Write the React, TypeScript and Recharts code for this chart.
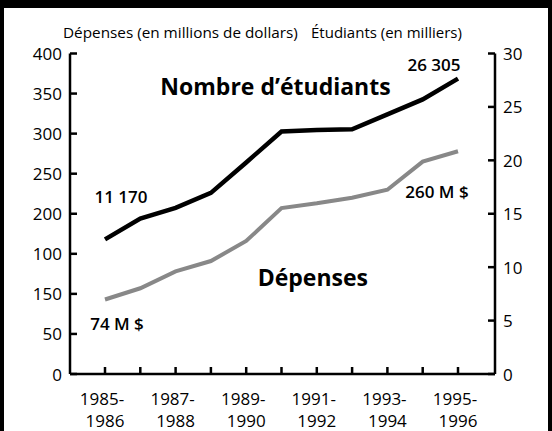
import React from "react";
import { LineChart, Line, XAxis, YAxis, LabelList } from "recharts";

// Périodes scolaires (une valeur par année)
const periods = [
  "1985-1986",
  "1986-1987",
  "1987-1988",
  "1988-1989",
  "1989-1990",
  "1990-1991",
  "1991-1992",
  "1992-1993",
  "1993-1994",
  "1994-1995",
  "1995-1996",
];

// Dépenses, en millions de dollars (axe de gauche)
const depenses = [93, 107, 128, 141, 166, 207, 213, 220, 230, 265, 278];

// Étudiants, en milliers (axe de droite)
const etudiants = [12.6, 14.55, 15.55, 16.95, 19.8, 22.7, 22.85, 22.9, 24.3, 25.7, 27.65];

const leftTicks = [0, 50, 100, 150, 200, 250, 300, 350, 400];
// libellés tels qu'imprimés dans l'original
const leftTickLabels = ["0", "50", "150", "100", "200", "250", "300", "350", "400"];
const rightTicks = [0, 5, 10, 15, 20, 25, 30];

const data = periods.map((p, i) => ({
  period: p,
  depenses: depenses[i],
  etudiants: etudiants[i],
}));

const FONT = "'Open Sans', sans-serif";

// annotations posées par rapport à un point de la série
const studentNotes = [
  { index: 0, text: "11 170", dx: 16, dy: -43, size: 17 },
  { index: 10, text: "26 305", dx: -24, dy: -14, size: 17 },
  { index: 5, text: "Nombre d\u2019étudiants", dx: -6, dy: -45, size: 23 },
];
const depenseNotes = [
  { index: 0, text: "74 M $", dx: 12, dy: 24, size: 17 },
  { index: 10, text: "260 M $", dx: -21, dy: 40, size: 17 },
  { index: 6, text: "Dépenses", dx: -4, dy: 74, size: 23 },
];

const makeNote = (notes: any[]) => (props: any) => {
  const { x, y, index } = props;
  const n = notes.find((m) => m.index === index);
  if (!n) return null;
  return (
    <text
      x={x + n.dx}
      y={y + n.dy}
      textAnchor="middle"
      dominantBaseline="central"
      fontFamily={FONT}
      fontWeight={n.size > 20 ? 700 : 600}
      fontSize={n.size}
      fill="#000"
    >
      {n.text}
    </text>
  );
};

const LeftTick = (props: any) => {
  const { x, y, index } = props;
  return (
    <g>
      <line x1={x} x2={x + 7} y1={y} y2={y} stroke="#000" strokeWidth={2.5} />
      <text x={x - 8} y={y} textAnchor="end" dominantBaseline="central" fontFamily={FONT} fontSize={17} fill="#000">
        {leftTickLabels[index]}
      </text>
    </g>
  );
};

const RightTick = (props: any) => {
  const { x, y, payload } = props;
  return (
    <g>
      <line x1={x - 7} x2={x} y1={y} y2={y} stroke="#000" strokeWidth={2.5} />
      <text x={x + 8} y={y} textAnchor="start" dominantBaseline="central" fontFamily={FONT} fontSize={17} fill="#000">
        {payload.value}
      </text>
    </g>
  );
};

const BottomTick = (props: any) => {
  const { x, y, index, payload } = props;
  const [a, b] = String(payload.value).split("-");
  return (
    <g>
      <line x1={x} x2={x} y1={y} y2={y - 7} stroke="#000" strokeWidth={2.5} />
      {index % 2 === 0 && (
        <text x={x} textAnchor="middle" fontFamily={FONT} fontSize={17} fill="#000">
          <tspan x={x - 3} y={y + 31}>{a + "-"}</tspan>
          <tspan x={x} y={y + 53}>{b}</tspan>
        </text>
      )}
    </g>
  );
};

export default function App() {
  return (
    <div style={{ position: "relative", width: 552, height: 431, background: "#fff", overflow: "hidden" }}>
      <style>{`body { margin: 0; }`}</style>
      <LineChart width={552} height={431} data={data} margin={{ top: 53.5, right: 0, bottom: 0, left: 0 }}>
        <XAxis
          dataKey="period"
          interval={0}
          padding={{ left: 35, right: 37 }}
          axisLine={{ stroke: "#000", strokeWidth: 2.5 }}
          tickLine={false}
          tickSize={0}
          tickMargin={0}
          height={57}
          tick={<BottomTick />}
        />
        <YAxis
          yAxisId="left"
          domain={[0, 400]}
          ticks={leftTicks}
          width={70}
          axisLine={{ stroke: "#000", strokeWidth: 2.5 }}
          tickLine={false}
          tickSize={0}
          tickMargin={0}
          tick={<LeftTick />}
        />
        <YAxis
          yAxisId="right"
          orientation="right"
          domain={[0, 30]}
          ticks={rightTicks}
          width={57}
          axisLine={{ stroke: "#000", strokeWidth: 2.5 }}
          tickLine={false}
          tickSize={0}
          tickMargin={0}
          tick={<RightTick />}
        />
        <Line
          yAxisId="left"
          dataKey="depenses"
          type="linear"
          stroke="#888888"
          strokeWidth={4}
          dot={false}
          isAnimationActive={false}
        >
          <LabelList dataKey="depenses" content={makeNote(depenseNotes)} />
        </Line>
        <Line
          yAxisId="right"
          dataKey="etudiants"
          type="linear"
          stroke="#000"
          strokeWidth={4.5}
          dot={false}
          isAnimationActive={false}
        >
          <LabelList dataKey="etudiants" content={makeNote(studentNotes)} />
        </Line>
      </LineChart>
      <div style={{ position: "absolute", left: 63, top: 22, fontFamily: FONT, fontSize: 15.3, color: "#000", whiteSpace: "nowrap" }}>
        Dépenses (en millions de dollars)
      </div>
      <div style={{ position: "absolute", left: 311, top: 22, fontFamily: FONT, fontSize: 15, color: "#000", whiteSpace: "nowrap" }}>
        Étudiants (en milliers)
      </div>
      <div style={{ position: "absolute", left: 0, top: 0, width: 552, height: 8, background: "#000", zIndex: 5 }} />
      <div style={{ position: "absolute", left: 0, top: 0, width: 4, height: 431, background: "#000", zIndex: 5 }} />
      <div style={{ position: "absolute", left: 548, top: 0, width: 4, height: 431, background: "#000", zIndex: 5 }} />
    </div>
  );
}
